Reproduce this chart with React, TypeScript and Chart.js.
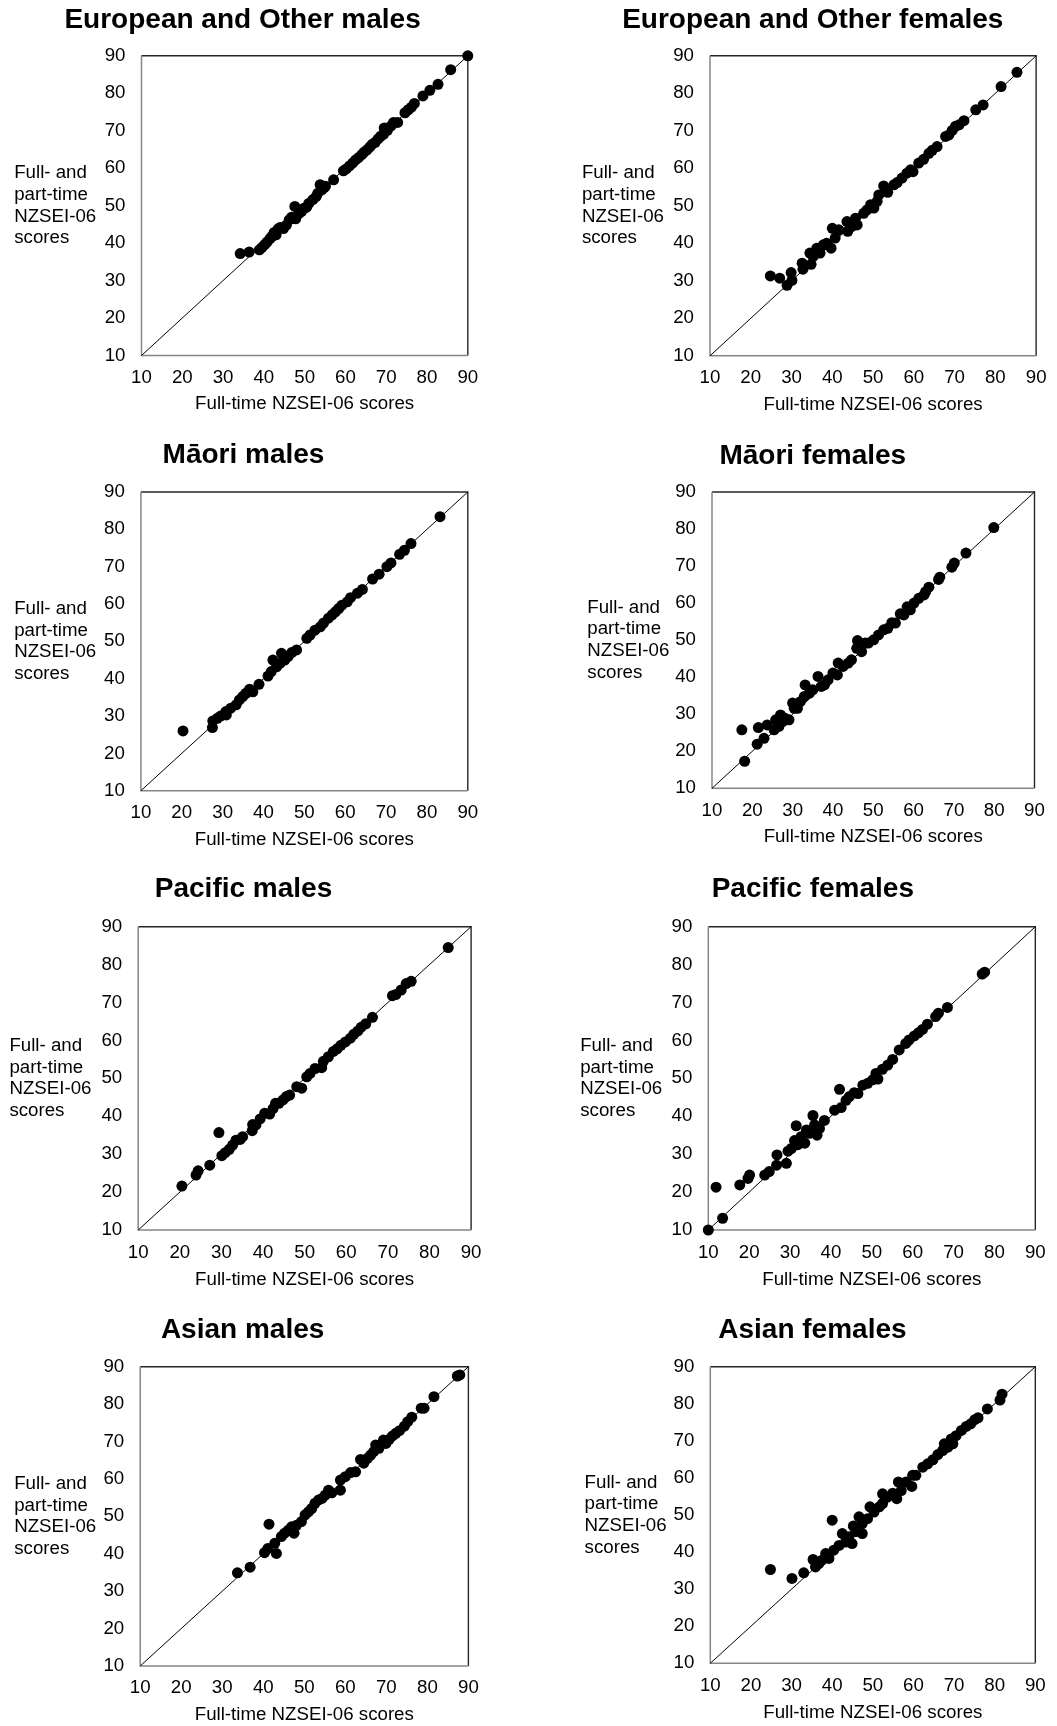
import React, { useEffect, useRef } from "react";
import { Chart, registerables } from "chart.js";

Chart.register(...registerables);

const FONT = '"Liberation Sans", Arial, Helvetica, sans-serif';
const TITLE_SIZE = 28;
const TEXT_SIZE = 18.7;
const YLABEL_SPACING = 21.7;

// ---------- data ----------
const panelTitles = [
  "European and Other males",
  "European and Other females",
  "Māori males",
  "Māori females",
  "Pacific males",
  "Pacific females",
  "Asian males",
  "Asian females",
];
const axisMin = 10;
const axisMax = 90;
const axisStep = 10;
const diagonal: [number, number][] = [
  [10, 10],
  [90, 90],
];
const xAxisTitle = "Full-time NZSEI-06 scores";
const yAxisTitleLines = ["Full- and", "part-time", "NZSEI-06", "scores"];

const euroMales: [number, number][] = [
  [34.2, 37.2], [36.4, 37.6], [38.9, 38.2], [39.5, 38.8], [40.2, 39.6], [40.8, 40.3], [41.5, 41.2],
  [42, 41.8], [42.5, 42.8], [43, 42.2], [43.5, 43.8], [44, 44.2], [44.8, 43.9], [45.5, 44.8],
  [46.2, 46.2], [46.8, 46.9], [47.6, 49.8], [47.8, 46.5], [48.5, 47.8], [49.2, 48.4], [49.8, 49.3],
  [50.5, 49.6], [51, 50.6], [52, 51.6], [52.8, 52.4], [53.2, 53.3], [53.8, 55.6], [54.2, 54.2],
  [54.8, 54.8], [55.1, 55.2], [57.1, 56.9], [59.5, 59.3], [60.2, 59.8], [61, 60.6], [61.8, 61.4],
  [62.5, 62.2], [63.2, 62.8], [64, 63.6], [64.6, 64.3], [65.3, 64.9], [66, 65.7], [66.6, 66.4],
  [67.3, 66.9], [68, 67.8], [68.6, 68.5], [69.3, 69], [69.5, 70.7], [70.3, 70.1], [71.2, 71.3],
  [71.8, 72.2], [72.8, 72.2], [74.6, 74.8], [75.4, 75.6], [76.2, 76.3], [76.9, 77.3], [79, 79.3],
  [80.7, 80.8], [82.7, 82.4], [85.8, 86.3], [90, 90],
];

const euroFemales: [number, number][] = [
  [24.8, 31.3], [27.1, 30.7], [28.9, 28.8], [29.9, 32.2], [30.1, 30.1], [32.6, 34.7], [32.8, 33.1],
  [34.5, 37.4], [34.8, 34.4], [35.3, 36.5], [36.2, 38.7], [37, 37.4], [37.8, 39.6], [38.6, 40],
  [39.7, 38.7], [40, 44], [40.7, 41.4], [41.6, 43.6], [43.6, 45.8], [43.8, 43.2], [44.8, 44.5],
  [45.7, 46.7], [46.1, 44.9], [47.7, 48], [48.5, 48.9], [49.4, 50.3], [50.2, 49.4], [51, 51.2],
  [51.4, 52.9], [52.6, 55.3], [53.6, 53.6], [55.1, 55.6], [55.9, 56.2], [57.1, 57.4], [58.3, 58.7],
  [59.2, 59.6], [59.8, 59.1], [61.2, 61.4], [62.4, 62.4], [63.7, 64], [64.5, 64.8], [65.7, 65.8],
  [67.8, 68.5], [68.6, 68.9], [69.4, 70.1], [70.2, 71.2], [71.1, 71.6], [72.3, 72.7], [75.2, 75.6],
  [77, 76.9], [81.4, 81.8], [85.3, 85.6],
];

const maoriMales: [number, number][] = [
  [20.3, 26], [27.5, 26.9], [27.6, 28.7], [28.7, 29.4], [29.5, 30], [30.8, 31.2], [30.9, 30.3],
  [32, 32.1], [33.3, 33], [34.1, 34.3], [34.9, 35.2], [35.7, 36.1], [36.6, 37.2], [37.4, 36.5],
  [38.9, 38.5], [41.1, 40.7], [41.9, 41.9], [42.3, 45], [43.2, 43.2], [44, 44.1], [44.4, 46.8],
  [45.2, 45], [46, 45.9], [46.9, 47], [48.1, 47.7], [50.6, 50.8], [51.4, 51.7], [52.6, 53],
  [53.9, 53.9], [54.7, 54.9], [55.9, 56.2], [56.8, 57.1], [57.6, 57.9], [58.4, 58.8], [59.2, 59.7],
  [60.5, 60.6], [61.3, 61.7], [63, 62.9], [64.2, 63.9], [66.7, 66.7], [68.3, 68], [70.2, 70],
  [71.2, 71], [73.3, 73.3], [74.5, 74.4], [76.1, 76.2], [83.2, 83.4],
];

const maoriFemales: [number, number][] = [
  [17.4, 25.8], [18.1, 17.3], [21.2, 21.9], [21.5, 26.4], [22.9, 23.5], [23.7, 27.1], [25.4, 25.8],
  [25.8, 28.5], [26.6, 26.7], [27, 29.8], [27.5, 28], [28.1, 28.9], [29.1, 28.5], [30, 33],
  [30.4, 31.6], [31.2, 31.6], [31.9, 33.4], [32.9, 34.8], [33.1, 37.9], [34.2, 35.7], [35, 36.6],
  [36.3, 40.2], [37.1, 37.5], [37.9, 37.9], [38.8, 39.3], [40, 41.1], [41.3, 43.8], [41.1, 40.6],
  [42.5, 42.9], [43.8, 43.8], [44.6, 44.7], [45.9, 47.8], [46.1, 49.9], [47.1, 46.9], [48, 49.2],
  [48.8, 49.2], [50.1, 50.1], [51.3, 51.4], [52.6, 52.8], [53.6, 53.2], [54.6, 54.7], [55.5, 54.6],
  [56.7, 57.1], [57.6, 56.8], [58.4, 59], [59.2, 58.2], [60.1, 60], [61.3, 61.3], [62.6, 62.2],
  [63, 63.1], [63.8, 64.3], [66.2, 66.4], [66.5, 67], [69.5, 69.7], [70.1, 70.8], [73, 73.5],
  [79.9, 80.4],
];

const pacificMales: [number, number][] = [
  [20.5, 21.6], [23.9, 24.5], [24.4, 25.6], [27.2, 27.1], [29.4, 35.7], [30.1, 29.6], [30.9, 30.4],
  [31.9, 31.3], [32.7, 32.4], [33.5, 33.7], [34.5, 33.9], [35.1, 34.6], [37.4, 36.2], [37.5, 37.8],
  [38.3, 37.7], [39.3, 39.3], [40.4, 40.8], [41.6, 40.6], [42.4, 42], [43, 43.4], [43.8, 43.4],
  [44.8, 44.3], [45.6, 45.2], [46.4, 45.6], [48.1, 47.8], [49.3, 47.4], [50.5, 50.4], [51.3, 51.3],
  [52.5, 52.6], [54.1, 52.8], [54.5, 54.5], [55.7, 55.7], [56.9, 57.1], [57.8, 57.8], [58.7, 58.7],
  [59.8, 59.6], [61, 60.6], [61.8, 61.6], [62.8, 62.5], [63.6, 63.5], [64.7, 64.4], [66.3, 66.1],
  [71.1, 71.8], [71.9, 72.1], [73.2, 73.3], [74.4, 75], [75.6, 75.6], [84.5, 84.5],
];

const pacificFemales: [number, number][] = [
  [10, 10], [11.9, 21.3], [13.5, 13.1], [17.7, 21.9], [19.7, 23.6], [20.1, 24.5], [23.8, 24.5],
  [24.9, 25.4], [26.7, 27.1], [26.8, 29.8], [29.1, 27.6], [29.5, 30.8], [30.3, 31.5], [31.1, 33.6],
  [31.5, 37.5], [31.9, 32.5], [32.7, 34.6], [33.6, 32.9], [34, 36.4], [34.8, 35.5], [35.6, 40.2],
  [36, 37.7], [36.6, 35], [37.2, 36.8], [38.4, 38.9], [40.9, 41.6], [42.1, 47.1], [42.5, 42.3],
  [43.7, 44.2], [44.5, 45.2], [45.7, 46.2], [46.6, 46], [47.8, 48.2], [49, 48.7], [50.2, 49.6],
  [51, 51.3], [51.5, 49.8], [52.6, 52.4], [53.9, 53.5], [55.1, 55], [56.7, 57.5], [58.3, 59.2],
  [59.1, 60.1], [60.4, 61.2], [61.4, 62], [62.4, 62.9], [63.6, 64.3], [65.6, 66.3], [66.3, 67.2],
  [68.5, 68.7], [77, 77.5], [77.6, 78],
];

const asianMales: [number, number][] = [
  [33.7, 34.9], [36.8, 36.4], [40.3, 40.3], [41.1, 41.4], [41.4, 47.9], [43.2, 40.1], [42.8, 42.8],
  [44.4, 44.6], [45.2, 45.5], [46.1, 46.3], [46.9, 47.2], [47.5, 45.5], [48.1, 47.6], [49.3, 48.6],
  [50.2, 50.4], [51, 51.2], [51.8, 52.1], [52.6, 53.5], [53.5, 54.4], [54.3, 54.8], [55.1, 55.7],
  [55.9, 57], [56.7, 56.3], [58.8, 57], [58.8, 59.7], [60, 60.6], [61.3, 61.7], [62.5, 61.9],
  [63.7, 65.2], [64.5, 64.2], [65.4, 65.5], [66.2, 66.4], [66.9, 67.3], [67.4, 69.1], [68.2, 68.2],
  [69.3, 70.4], [69.9, 69.5], [70.7, 70.6], [71.5, 71.5], [72.3, 72.2], [73.2, 72.9], [74.4, 74.1],
  [75.2, 75.3], [76.2, 76.5], [78.5, 78.9], [79.2, 78.9], [81.6, 82], [87.3, 87.5], [87.9, 87.8],
];

const asianFemales: [number, number][] = [
  [24.8, 35.3], [30.1, 32.9], [33, 34.4], [35.3, 38], [35.9, 36], [36.7, 36.9], [37.5, 37.8],
  [38.4, 39.6], [39.2, 38.3], [40, 48.6], [40.4, 40.5], [41.7, 41.8], [42.5, 45], [43.3, 42.7],
  [44.1, 44.1], [44.9, 42.3], [45.2, 47], [45.8, 45.5], [46.6, 49.5], [47.4, 45], [47.4, 47.7],
  [48.7, 49], [49.3, 52.2], [50.3, 50.8], [51.6, 52.2], [52.4, 55.7], [52.4, 53.1], [53.6, 54.8],
  [54.9, 55.9], [55.9, 54.4], [56.3, 58.9], [57, 56.6], [58.2, 58.9], [59.6, 57.7], [59.8, 60.7],
  [60.6, 60.7], [62.3, 62.9], [63.5, 63.8], [64.8, 64.9], [66, 66.3], [67.2, 67.4], [67.6, 69.2],
  [68.5, 68.3], [69.3, 70.5], [69.7, 69.2], [70.5, 71.4], [71.8, 72.8], [73, 73.9], [74.1, 74.6],
  [75.1, 75.7], [75.9, 76.2], [78.2, 78.6], [81.3, 81], [81.8, 82.6],
];

const panelData = [
  euroMales,
  euroFemales,
  maoriMales,
  maoriFemales,
  pacificMales,
  pacificFemales,
  asianMales,
  asianFemales,
];

// ---------- layout (page pixels) ----------
type Lay = {
  cx: number; cy: number; cw: number; ch: number;
  L: number; R: number; T: number; B: number;
  titleCX: number; titleCY: number; xTitleCY: number; xTickCY: number; yLabX: number;
};

const layouts: Lay[] = [
  { cx: 0, cy: 0, cw: 528, ch: 430, L: 141.5, R: 467.8, T: 55.8, B: 355.5, titleCX: 242.6, titleCY: 20, xTitleCY: 404.3, xTickCY: 377.5, yLabX: 14.2 },
  { cx: 528, cy: 0, cw: 529, ch: 430, L: 710, R: 1038.8, T: 55.8, B: 355.8, titleCX: 812.8, titleCY: 20, xTitleCY: 405, xTickCY: 377.5, yLabX: 581.9 },
  { cx: 0, cy: 430, cw: 528, ch: 440, L: 140.9, R: 467.8, T: 492, B: 790.7, titleCX: 243.5, titleCY: 455.6, xTitleCY: 839.7, xTickCY: 812.5, yLabX: 14.2 },
  { cx: 528, cy: 430, cw: 529, ch: 440, L: 712, R: 1034.5, T: 492, B: 788.3, titleCX: 812.8, titleCY: 455.8, xTitleCY: 836.7, xTickCY: 810.7, yLabX: 587.3 },
  { cx: 0, cy: 870, cw: 528, ch: 430, L: 138.2, R: 471.1, T: 926.7, B: 1230, titleCX: 243.5, titleCY: 889.7, xTitleCY: 1280, xTickCY: 1252.5, yLabX: 9.4 },
  { cx: 528, cy: 870, cw: 529, ch: 430, L: 708.3, R: 1040.2, T: 926.7, B: 1230, titleCX: 812.8, titleCY: 889.7, xTitleCY: 1280, xTickCY: 1252.5, yLabX: 580.2 },
  { cx: 0, cy: 1300, cw: 528, ch: 426, L: 140.2, R: 468.4, T: 1366.7, B: 1666, titleCX: 242.6, titleCY: 1330, xTitleCY: 1715.5, xTickCY: 1688.3, yLabX: 14.2 },
  { cx: 528, cy: 1300, cw: 529, ch: 426, L: 710.3, R: 1037.2, T: 1366.7, B: 1663.3, titleCX: 812.4, titleCY: 1330, xTitleCY: 1712.7, xTickCY: 1685.8, yLabX: 584.6 },
];

function Panel({ title, points, lay }: { title: string; points: [number, number][]; lay: Lay }) {
  const ref = useRef<HTMLCanvasElement>(null);

  useEffect(() => {
    const canvas = ref.current;
    if (!canvas) return;
    const TLH = TITLE_SIZE * 1.2;
    const XLH = TEXT_SIZE * 1.2;
    const padL = 2 * lay.titleCX - lay.R - lay.cx;
    const padR = lay.cx + lay.cw - lay.R;
    const Wy = lay.L - lay.cx - padL;
    const padT = lay.titleCY - TLH / 2 - lay.cy;
    const titlePadBottom = lay.T - lay.cy - padT - TLH;
    let Hx = lay.xTitleCY - lay.B + XLH / 2;
    let padB = lay.cy + lay.ch - lay.B - Hx;
    if (padB < 0) {
      Hx += padB;
      padB = 0;
    }
    const xTickPad = lay.xTickCY - lay.B - XLH / 2;

    const framePlugin = {
      id: "frame",
      beforeDatasetsDraw(chart: any) {
        const { ctx, chartArea } = chart;
        const { left, top, right, bottom } = chartArea;
        ctx.save();
        ctx.lineWidth = 1.4;
        ctx.strokeStyle = "#262626";
        ctx.beginPath();
        ctx.moveTo(left, top);
        ctx.lineTo(right, top);
        ctx.lineTo(right, bottom);
        ctx.stroke();
        ctx.strokeStyle = "#868686";
        ctx.lineWidth = 1.5;
        ctx.beginPath();
        ctx.moveTo(left, top);
        ctx.lineTo(left, bottom);
        ctx.lineTo(right, bottom);
        ctx.stroke();
        ctx.restore();
      },
    };

    const yLabelPlugin = {
      id: "yLabel",
      afterDraw(chart: any) {
        const { ctx, chartArea } = chart;
        const mid = (chartArea.top + chartArea.bottom) / 2;
        ctx.save();
        ctx.font = `${TEXT_SIZE}px ${FONT}`;
        ctx.fillStyle = "#000";
        ctx.textAlign = "left";
        ctx.textBaseline = "middle";
        const n = yAxisTitleLines.length;
        yAxisTitleLines.forEach((line, i) => {
          ctx.fillText(line, lay.yLabX - lay.cx, mid + (i - (n - 1) / 2) * YLABEL_SPACING);
        });
        ctx.restore();
      },
    };

    const chart = new Chart(canvas, {
      type: "scatter",
      data: {
        datasets: [
          {
            label: title,
            data: points.map(([x, y]) => ({ x, y })),
            backgroundColor: "#000",
            borderColor: "#000",
            pointRadius: 5.5,
            pointHoverRadius: 5.5,
            pointBorderWidth: 0,
            clip: false,
            order: 1,
          } as any,
          {
            label: "diagonal",
            data: diagonal.map(([x, y]) => ({ x, y })),
            showLine: true,
            borderColor: "#000",
            borderWidth: 1,
            pointRadius: 0,
            pointHoverRadius: 0,
            clip: false,
            order: 2,
          } as any,
        ],
      },
      options: {
        animation: false,
        responsive: false,
        maintainAspectRatio: false,
        devicePixelRatio: 1,
        events: [],
        layout: { padding: { left: padL, right: padR, top: padT, bottom: padB } },
        plugins: {
          legend: { display: false },
          tooltip: { enabled: false },
          title: {
            display: true,
            text: title,
            color: "#000",
            font: { family: FONT, size: TITLE_SIZE, weight: "bold" },
            padding: { top: 0, bottom: titlePadBottom },
          },
        },
        scales: {
          x: {
            type: "linear",
            position: "bottom",
            min: axisMin,
            max: axisMax,
            ticks: {
              stepSize: axisStep,
              padding: xTickPad,
              color: "#000",
              font: { family: FONT, size: TEXT_SIZE },
              maxRotation: 0,
            },
            grid: { display: false, drawTicks: false, tickLength: 0 },
            border: { display: false },
            title: {
              display: true,
              text: xAxisTitle,
              color: "#000",
              font: { family: FONT, size: TEXT_SIZE },
              padding: 0,
            },
            afterFit: (s: any) => {
              s.height = Hx;
            },
          },
          y: {
            type: "linear",
            position: "left",
            min: axisMin,
            max: axisMax,
            ticks: {
              stepSize: axisStep,
              padding: 16,
              color: "#000",
              font: { family: FONT, size: TEXT_SIZE },
            },
            grid: { display: false, drawTicks: false, tickLength: 0 },
            border: { display: false },
            afterFit: (s: any) => {
              s.width = Wy;
            },
          },
        },
      } as any,
      plugins: [framePlugin, yLabelPlugin],
    });

    return () => {
      chart.destroy();
    };
  }, [title, points, lay]);

  return (
    <canvas
      ref={ref}
      width={lay.cw}
      height={lay.ch}
      style={{ position: "absolute", left: lay.cx, top: lay.cy, width: lay.cw, height: lay.ch }}
    />
  );
}

export default function App() {
  return (
    <div
      style={{
        position: "absolute",
        left: 0,
        top: 0,
        width: 1057,
        height: 1726,
        background: "#fff",
        overflow: "hidden",
      }}
    >
      {panelTitles.map((t, i) => (
        <Panel key={t} title={t} points={panelData[i]} lay={layouts[i]} />
      ))}
    </div>
  );
}
